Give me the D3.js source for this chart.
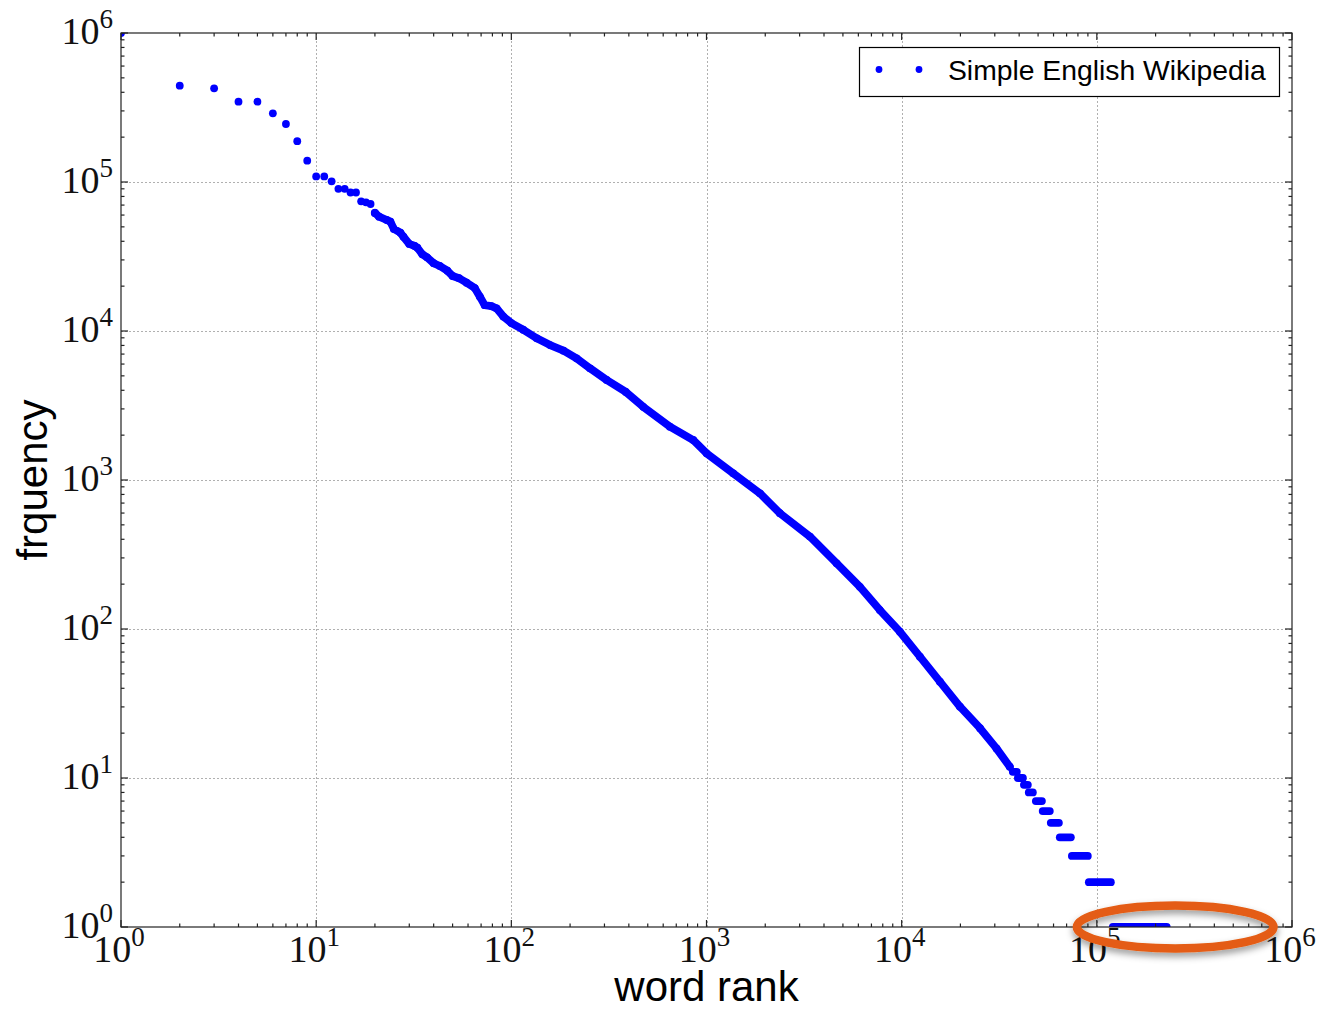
<!DOCTYPE html>
<meta charset='utf-8'>
<html>
  <head>
    <script src="https://cdn.jsdelivr.net/npm/d3@7/dist/d3.min.js" charset="utf-8"></script>
    <style>
      body {
        margin: 0;
        background: #fff;
      }
      .tick-label {
        font-family: "Liberation Serif", "Times New Roman", serif;
        fill: #111;
      }
      .axis-title {
        font-family: "Liberation Sans", Arial, sans-serif;
        font-size: 42px;
        fill: #000;
      }
      .legend-text {
        font-family: "Liberation Sans", Arial, sans-serif;
        font-size: 28.3px;
        fill: #000;
      }
      .grid {
        stroke: #b0b0b0;
        stroke-width: 1px;
        stroke-dasharray: 2,2;
      }
    </style>
  </head>
  <body>
    <div id="chart"></div>
    <script type="text/javascript">
      // first ranks, one dot each
      var headRank = [1, 2, 3, 4, 5, 6, 7, 8, 9, 10, 11, 12, 13, 14, 15, 16, 17, 18, 19, 20];
      var headFreq = [1000000, 443000, 425000, 346000, 346000, 289000, 245000, 188000, 139000, 109000,
                      109000, 101000, 90000, 90000, 85000, 85000, 74200, 73100, 71200, 62000];

      var bodyRank = [20, 21, 23, 24, 25, 27, 28, 30, 32, 33, 35, 37, 40, 43, 47, 50, 54, 59, 65, 69,
                      73, 79, 84, 91, 100, 115, 135, 158, 185, 216, 253, 308, 386, 474, 649, 855,
                      1001, 1371, 1878, 2377, 3388, 4641, 6106, 7730, 9790, 12400, 15700, 19900,
                      25200, 30600, 35800];
      var bodyFreq = [62000, 58500, 55600, 54200, 48400, 45700, 42900, 38400, 37200, 36200, 32700,
                      31200, 28500, 27300, 25400, 23400, 22600, 21100, 19400, 17000, 14900, 14700,
                      14200, 12500, 11300, 10200, 8930, 8050, 7380, 6560, 5620, 4690, 3900, 3100,
                      2280, 1855, 1510, 1109, 814, 598, 417, 276, 192, 134, 95.9, 65.2, 44.3, 30.1,
                      21.6, 15.8, 11.9];

      // low counts: every rank between first and last has the same frequency
      var tailFreq = [11, 10, 9, 8, 7, 6, 5, 4, 3, 2, 1];
      var tailFirst = [37100, 39400, 42300, 44800, 48700, 52800, 58100, 64600, 74500, 91000, 120800];
      var tailLast = [38900, 41800, 44300, 47000, 52300, 57400, 63900, 73600, 89900, 118000, 228000];

      var tickExp = [0, 1, 2, 3, 4, 5, 6];
      var seriesName = "Simple English Wikipedia";
      var xTitle = "word rank",
        yTitle = "frquency";

      // annotation ring around the freq = 1 plateau (data units)
      var ringRank = [79000, 804000];
      var ringFreq = [0.718, 1.394];

      var width = 1317,
        height = 1010,
        margin = {top: 33, right: 25, bottom: 83, left: 121},
        r = 3.9,
        blue = "#0000ff";

      var x = d3.scaleLog().domain([1, 1e6]).range([margin.left, width - margin.right]);
      var y = d3.scaleLog().domain([1, 1e6]).range([height - margin.bottom, margin.top]);

      var svg = d3.select("#chart").append("svg")
        .attr("width", width)
        .attr("height", height);

      var defs = svg.append("defs");
      defs.append("clipPath").attr("id", "plot-clip")
        .append("rect")
          .attr("x", x(1)).attr("y", y(1e6))
          .attr("width", x(1e6) - x(1))
          .attr("height", y(1) - y(1e6));

      var shadow = defs.append("filter").attr("id", "shadow")
        .attr("x", "-20%").attr("y", "-50%").attr("width", "140%").attr("height", "200%");
      shadow.append("feDropShadow")
        .attr("dx", 0).attr("dy", 4)
        .attr("stdDeviation", 3.5)
        .attr("flood-color", "#000")
        .attr("flood-opacity", 0.4);

      var majors = tickExp.map(function(e) { return Math.pow(10, e); });
      var minors = [];
      for (var e = 0; e < 6; e++) {
        for (var m = 2; m < 10; m++) minors.push(m * Math.pow(10, e));
      }

      // grid
      var grid = svg.append("g");
      grid.selectAll(".gx").data(majors.slice(1, -1)).enter().append("line")
        .attr("class", "grid")
        .attr("x1", function(d) { return Math.round(x(d)) + 0.5; })
        .attr("x2", function(d) { return Math.round(x(d)) + 0.5; })
        .attr("y1", y(1e6)).attr("y2", y(1));
      grid.selectAll(".gy").data(majors.slice(1, -1)).enter().append("line")
        .attr("class", "grid")
        .attr("y1", function(d) { return Math.round(y(d)) + 0.5; })
        .attr("y2", function(d) { return Math.round(y(d)) + 0.5; })
        .attr("x1", x(1)).attr("x2", x(1e6));

      // data
      var plot = svg.append("g").attr("clip-path", "url(#plot-clip)");

      var line = d3.line()
        .x(function(d, i) { return x(bodyRank[i]); })
        .y(function(d, i) { return y(bodyFreq[i]); });

      plot.append("path")
        .datum(bodyRank)
        .attr("d", line)
        .attr("fill", "none")
        .attr("stroke", blue)
        .attr("stroke-width", 2 * r)
        .attr("stroke-linejoin", "round")
        .attr("stroke-linecap", "round");

      plot.selectAll(".body-dot").data(bodyRank).enter().append("circle")
        .attr("cx", function(d) { return x(d); })
        .attr("cy", function(d, i) { return y(bodyFreq[i]); })
        .attr("r", r)
        .attr("fill", blue);

      plot.selectAll(".head-dot").data(headRank).enter().append("circle")
        .attr("cx", function(d) { return x(d); })
        .attr("cy", function(d, i) { return y(headFreq[i]); })
        .attr("r", r)
        .attr("fill", blue);

      plot.selectAll(".tail").data(tailFreq).enter().append("line")
        .attr("x1", function(d, i) { return x(tailFirst[i]); })
        .attr("x2", function(d, i) { return x(tailLast[i]); })
        .attr("y1", function(d) { return y(d); })
        .attr("y2", function(d) { return y(d); })
        .attr("stroke", blue)
        .attr("stroke-width", 2 * r)
        .attr("stroke-linecap", "round");

      // frame and ticks (inside, all four sides)
      var axes = svg.append("g").attr("stroke", "#222").attr("stroke-width", 1.2);
      axes.append("rect")
        .attr("x", x(1)).attr("y", y(1e6))
        .attr("width", x(1e6) - x(1))
        .attr("height", y(1) - y(1e6))
        .attr("fill", "none");

      function ticks(vals, len) {
        axes.selectAll(null).data(vals).enter().append("line")
          .attr("x1", function(d) { return x(d); }).attr("x2", function(d) { return x(d); })
          .attr("y1", y(1)).attr("y2", y(1) - len);
        axes.selectAll(null).data(vals).enter().append("line")
          .attr("x1", function(d) { return x(d); }).attr("x2", function(d) { return x(d); })
          .attr("y1", y(1e6)).attr("y2", y(1e6) + len);
        axes.selectAll(null).data(vals).enter().append("line")
          .attr("y1", function(d) { return y(d); }).attr("y2", function(d) { return y(d); })
          .attr("x1", x(1)).attr("x2", x(1) + len);
        axes.selectAll(null).data(vals).enter().append("line")
          .attr("y1", function(d) { return y(d); }).attr("y2", function(d) { return y(d); })
          .attr("x1", x(1e6)).attr("x2", x(1e6) - len);
      }
      ticks(majors, 7);
      ticks(minors, 3.5);

      // tick labels 10^n
      var xl = svg.selectAll(".xl").data(tickExp).enter().append("text")
        .attr("class", "tick-label")
        .attr("x", function(d) { return x(Math.pow(10, d)) - 2; })
        .attr("y", y(1) + 35)
        .attr("text-anchor", "middle");
      xl.append("tspan").attr("font-size", "38px").text("10");
      xl.append("tspan").attr("font-size", "27px").attr("dy", -16).text(function(d) { return d; });

      var yl = svg.selectAll(".yl").data(tickExp).enter().append("text")
        .attr("class", "tick-label")
        .attr("x", x(1) - 8)
        .attr("y", function(d) { return y(Math.pow(10, d)) + 10.5; })
        .attr("text-anchor", "end");
      yl.append("tspan").attr("font-size", "38px").text("10");
      yl.append("tspan").attr("font-size", "27px").attr("dy", -16).text(function(d) { return d; });

      // axis titles
      svg.append("text")
        .attr("class", "axis-title")
        .attr("x", (x(1) + x(1e6)) / 2)
        .attr("y", 1001)
        .attr("text-anchor", "middle")
        .text(xTitle);

      svg.append("text")
        .attr("class", "axis-title")
        .attr("transform", "translate(47," + (y(1e3)) + ") rotate(-90)")
        .attr("text-anchor", "middle")
        .text(yTitle);

      // legend
      var legend = svg.append("g");
      legend.append("rect")
        .attr("x", 859.5).attr("y", 47.5)
        .attr("width", 420).attr("height", 49)
        .attr("fill", "#fff")
        .attr("stroke", "#000")
        .attr("stroke-width", 1.2);
      legend.selectAll("circle").data([879, 919]).enter().append("circle")
        .attr("cx", function(d) { return d; })
        .attr("cy", 69.5)
        .attr("r", 3.4)
        .attr("fill", blue);
      legend.append("text")
        .attr("class", "legend-text")
        .attr("x", 948)
        .attr("y", 80)
        .text(seriesName);

      // orange ring drawn over the plot
      svg.append("ellipse")
        .attr("cx", (x(ringRank[0]) + x(ringRank[1])) / 2)
        .attr("cy", (y(ringFreq[0]) + y(ringFreq[1])) / 2)
        .attr("rx", (x(ringRank[1]) - x(ringRank[0])) / 2)
        .attr("ry", (y(ringFreq[0]) - y(ringFreq[1])) / 2)
        .attr("fill", "none")
        .attr("stroke", "#e45c12")
        .attr("stroke-width", 8.5)
        .attr("filter", "url(#shadow)");
    </script>
  </body>
</html>
